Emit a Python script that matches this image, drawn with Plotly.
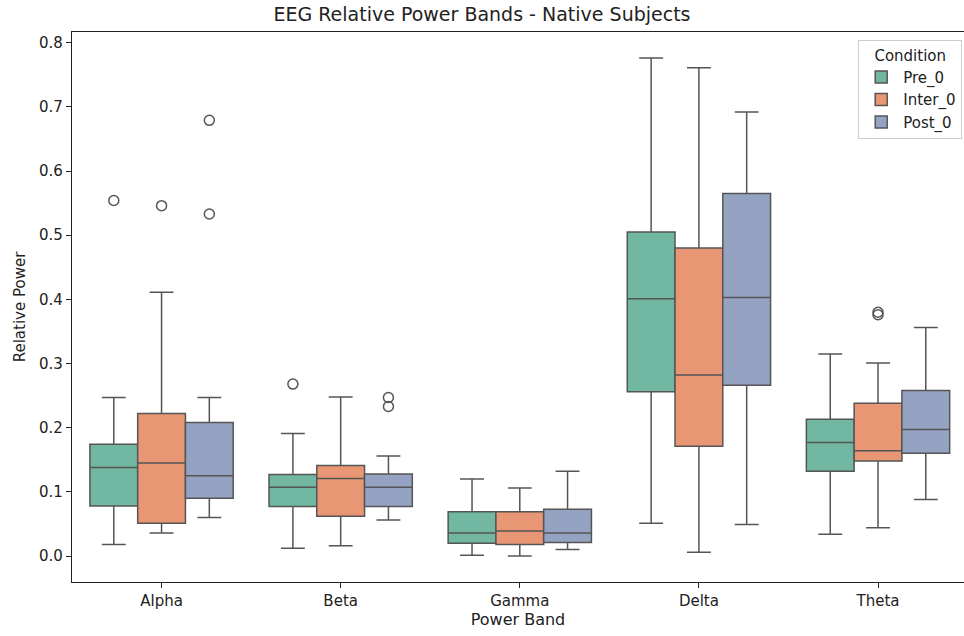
import plotly.graph_objects as go

bands = ["Alpha", "Beta", "Gamma", "Delta", "Theta"]
conditions = ["Pre_0", "Inter_0", "Post_0"]

# per condition: values per band
lower = {
    "Pre_0":   [0.018, 0.012, 0.001, 0.051, 0.034],
    "Inter_0": [0.036, 0.016, 0.000, 0.006, 0.044],
    "Post_0":  [0.060, 0.056, 0.010, 0.049, 0.088],
}
q1 = {
    "Pre_0":   [0.078, 0.077, 0.020, 0.256, 0.132],
    "Inter_0": [0.051, 0.062, 0.018, 0.171, 0.148],
    "Post_0":  [0.090, 0.077, 0.021, 0.266, 0.160],
}
median = {
    "Pre_0":   [0.138, 0.107, 0.036, 0.401, 0.177],
    "Inter_0": [0.145, 0.121, 0.039, 0.282, 0.164],
    "Post_0":  [0.125, 0.107, 0.036, 0.403, 0.197],
}
q3 = {
    "Pre_0":   [0.174, 0.127, 0.069, 0.505, 0.213],
    "Inter_0": [0.222, 0.141, 0.069, 0.480, 0.238],
    "Post_0":  [0.208, 0.128, 0.073, 0.565, 0.258],
}
upper = {
    "Pre_0":   [0.247, 0.191, 0.120, 0.776, 0.315],
    "Inter_0": [0.411, 0.248, 0.106, 0.761, 0.301],
    "Post_0":  [0.247, 0.156, 0.132, 0.692, 0.356],
}
outliers = {
    "Pre_0":   [[0.554], [0.268], [], [], []],
    "Inter_0": [[0.546], [], [], [], [0.380, 0.376]],
    "Post_0":  [[0.679, 0.533], [0.247, 0.233], [], [], []],
}

colors = {"Pre_0": "#71b7a1", "Inter_0": "#e99675", "Post_0": "#95a3c3"}
line_col = "#555555"
box_w = 0.8 / 3
offsets = {"Pre_0": -box_w, "Inter_0": 0.0, "Post_0": box_w}

fig = go.Figure()
for c in conditions:
    xs = [i + offsets[c] for i in range(len(bands))]
    fig.add_trace(go.Box(
        name=c, x=xs,
        q1=q1[c], median=median[c], q3=q3[c],
        lowerfence=lower[c], upperfence=upper[c],
        width=box_w, whiskerwidth=0.5,
        fillcolor=colors[c], line=dict(color=line_col, width=1.5),
        boxpoints=False, hoverinfo="skip", showlegend=True,
    ))
for c in conditions:
    ox, oy = [], []
    for i, vals in enumerate(outliers[c]):
        for v in vals:
            ox.append(i + offsets[c])
            oy.append(v)
    fig.add_trace(go.Scatter(
        x=ox, y=oy, mode="markers", showlegend=False, hoverinfo="skip",
        marker=dict(symbol="circle-open", size=10, color=line_col, line=dict(width=1.5, color=line_col)),
    ))

axis_common = dict(showline=True, linecolor="#222222", linewidth=1.2, mirror=True,
                   ticks="outside", ticklen=5, tickcolor="#222222", showgrid=False, zeroline=False,
                   tickfont=dict(size=15, color="#222222"))

fig.update_layout(
    width=964, height=636,
    margin=dict(l=72, r=0, t=32, b=54),
    paper_bgcolor="white", plot_bgcolor="white",
    font=dict(family="DejaVu Sans", color="#222222"),
    title=dict(text="EEG Relative Power Bands - Native Subjects", x=0.5, xanchor="center",
               y=0.977, yanchor="middle", font=dict(size=19, color="#222222")),
    boxmode="overlay",
    xaxis=dict(range=[-0.5, 4.48], tickvals=list(range(len(bands))), ticktext=bands,
               title=dict(text="Power Band", font=dict(size=16), standoff=4), **axis_common),
    yaxis=dict(range=[-0.0405, 0.8167], tickvals=[0, 0.1, 0.2, 0.3, 0.4, 0.5, 0.6, 0.7, 0.8],
               tickformat=".1f",
               title=dict(text="Relative Power", font=dict(size=15), standoff=9), **axis_common),
    legend=dict(x=0.998, y=0.985, xanchor="right", yanchor="top",
                title=dict(text="Condition", side="top center", font=dict(size=15)),
                font=dict(size=15), bgcolor="rgba(255,255,255,0.85)",
                bordercolor="#cccccc", borderwidth=1, itemwidth=34, tracegroupgap=2),
)

fig.write_html("out.html", config={"displayModeBar": False},
               post_script="document.body.style.margin='0';document.body.style.overflow='hidden';")
